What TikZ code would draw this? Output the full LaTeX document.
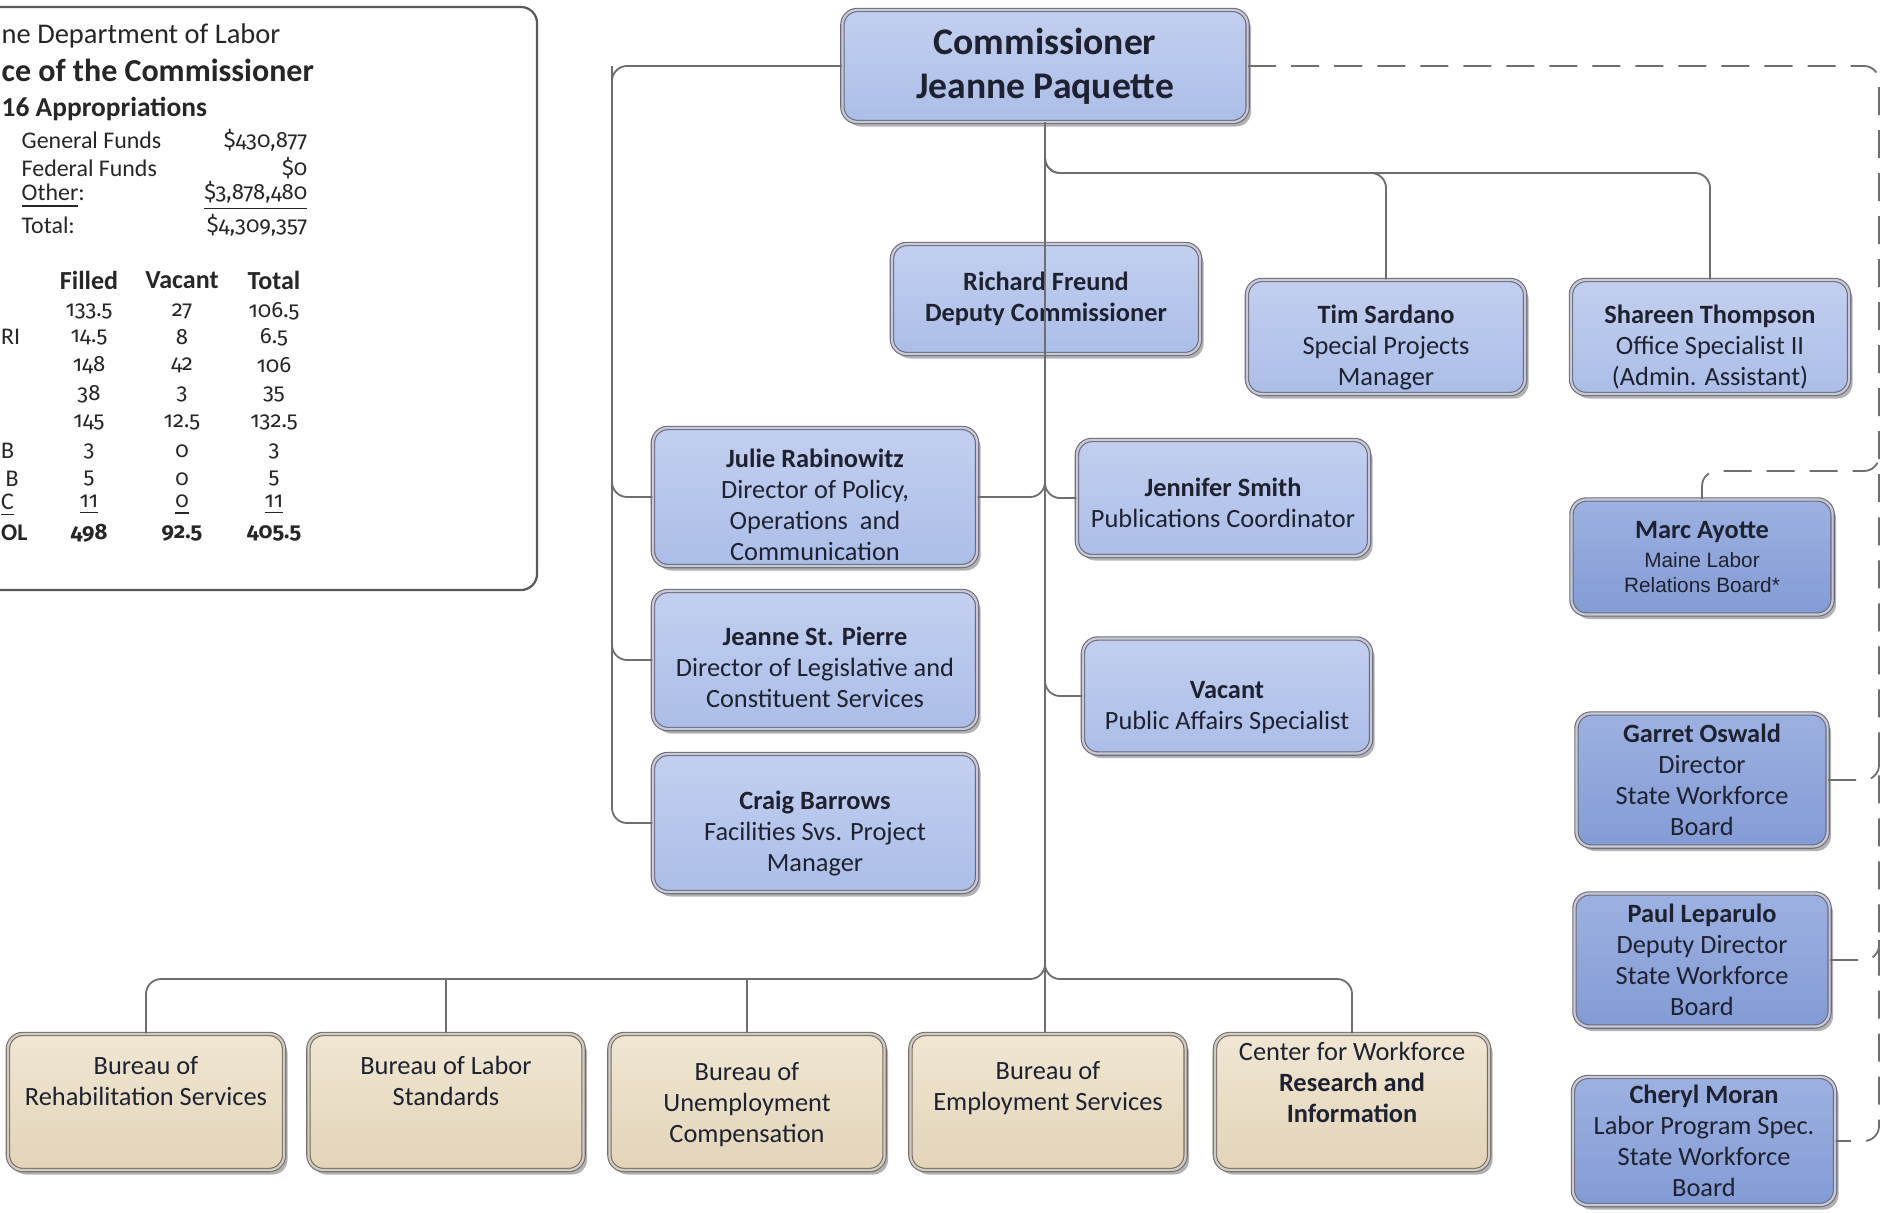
\documentclass[tikz,border=0pt]{standalone}
\usepackage[svgnames]{xcolor}
\usepackage{fontspec}
\setmainfont{Carlito}
\newfontfamily\infofont{Carlito}
\newfontfamily\numfont[Numbers=OldStyle]{Fira Sans}
\newfontfamily\arialfont{Liberation Sans}
\usetikzlibrary{shadows}

\definecolor{linkgray}{HTML}{6E6E6E}
\definecolor{rimgray}{HTML}{6A6A78}
\definecolor{rimlight}{HTML}{C8CAD8}
\definecolor{bluetop}{HTML}{C3CFEF}
\definecolor{bluebot}{HTML}{ABBDE8}
\definecolor{deeptop}{HTML}{9DB1E1}
\definecolor{deepbot}{HTML}{839BD5}
\definecolor{tantop}{HTML}{F0E6D2}
\definecolor{tanbot}{HTML}{E3D4B9}
\definecolor{tanrim}{HTML}{766C62}
\definecolor{inktext}{HTML}{1E2230}

% lower (or raise) a block of centred lines inside a box
\newcommand{\shiftlines}[2]{\raisebox{#1}[\height][\depth]{\begin{tabular}{@{}c@{}}#2\end{tabular}}}

\tikzset{
  orgbox/.style={rectangle, rounded corners=0.15cm, inner sep=0pt, align=center,
    draw=rimgray, double=rimlight, line width=0.011cm, double distance=0.022cm,
    top color=bluetop, bottom color=bluebot, text=inktext,
    drop shadow={shadow xshift=0.035cm, shadow yshift=-0.045cm, opacity=0.3, fill=black},
    font=\fontsize{7.5}{8.8}\selectfont},
  boardbox/.style={orgbox, top color=deeptop, bottom color=deepbot},
  bureaubox/.style={orgbox, draw=tanrim, double=tanrim!35, top color=tantop, bottom color=tanbot},
  link/.style={draw=linkgray, line width=0.018cm, rounded corners=0.15cm},
  dlink/.style={link, dash pattern=on 0.28cm off 0.15cm},
  infotext/.style={inner sep=0pt, text=black!85, font=\infofont\fontsize{6.8}{8}\selectfont},
  numtext/.style={infotext, font=\numfont\fontsize{6.3}{8}\selectfont},
}

\begin{document}
\begin{tikzpicture}[x=0.01cm, y=-0.01cm]
\useasboundingbox (0,0) rectangle (1895,1212);
\fill[white] (0,0) rectangle (1895,1212);
\clip (0,0) rectangle (1895,1212);

% summary panel
\draw[draw=black!65, line width=0.022cm, rounded corners=0.16cm] (-40,7) rectangle (537,590);
\node[infotext, anchor=west, font=\infofont\fontsize{8.1}{10}\selectfont] (dept) at (1,36) {ne Department of Labor};
\node[infotext, anchor=west, font=\infofont\bfseries\fontsize{9.1}{11}\selectfont] (office) at (1,70) {ce of the Commissioner};
\node[infotext, anchor=west, font=\infofont\bfseries\fontsize{7.8}{10}\selectfont] (approp) at (1,109) {16 Appropriations};
\foreach \lab/\amt/\yy [count=\k] in {General Funds/{\$430,877}/140, Federal Funds/\$0/168,
    \underline{Other}:/{\underline{\$3,878,480}}/196, Total:/{\$4,309,357}/225}
{
  \node[infotext, anchor=west] (fund\k) at (21,\yy) {\lab};
  \node[numtext, anchor=east] (amt\k) at (308,\yy) {\amt};
}
\node[infotext, font=\infofont\bfseries\fontsize{7.4}{9}\selectfont] (hfilled) at (89,280) {Filled};
\node[infotext, font=\infofont\bfseries\fontsize{7.4}{9}\selectfont] (hopen) at (182,280) {Vacant};
\node[infotext, font=\infofont\bfseries\fontsize{7.4}{9}\selectfont] (hsum) at (274,280) {Total};
\foreach \yy/\nf/\nv/\nt [count=\r] in {311/133.5/27/106.5, 337/14.5/8/6.5, 365/148/42/106,
    394/38/3/35, 422/145/12.5/132.5, 451/3/0/3, 479/5/0/5,
    505/\underline{11}/\underline{0}/\underline{11}, 533/\textbf{498}/\textbf{92.5}/\textbf{405.5}}
{
  \node[numtext] (filled\r) at (89,\yy) {\nf};
  \node[numtext] (open\r) at (182,\yy) {\nv};
  \node[numtext] (sum\r) at (274,\yy) {\nt};
}
\node[infotext, anchor=west] (lab2) at (0.5,337) {RI};
\node[infotext, anchor=west] (lab6) at (0.5,451) {B};
\node[infotext, anchor=west] (lab7) at (5,479) {B};
\node[infotext, anchor=west] (lab8) at (0.5,505) {\underline{C}};
\node[infotext, anchor=west] (lab9) at (0.5,533) {\textbf{OL}};

% commissioner and staff
\node[orgbox, minimum width=4.05cm, minimum height=1.12cm, font=\bfseries\fontsize{10.7}{12.4}\selectfont] (comm) at (1045,66) {Commissioner\\Jeanne Paquette};
\node[orgbox, minimum width=3.08cm, minimum height=1.10cm, font=\bfseries\fontsize{7.5}{8.8}\selectfont] (freund) at (1046,299) {Richard Freund\\Deputy Commissioner};
\node[orgbox, minimum width=2.78cm, minimum height=1.14cm] (sardano) at (1386,337) {\shiftlines{-0.11cm}{\textbf{Tim Sardano}\\Special Projects\\Manager}};
\node[orgbox, minimum width=2.78cm, minimum height=1.14cm] (thompson) at (1710,337) {\shiftlines{-0.11cm}{\textbf{Shareen Thompson}\\Office Specialist II\\(Admin. Assistant)}};
\node[orgbox, minimum width=3.24cm, minimum height=1.38cm] (rabinowitz) at (815,497) {\shiftlines{-0.11cm}{\textbf{Julie Rabinowitz}\\Director of Policy,\\Operations\ \ and\\Communication}};
\node[orgbox, minimum width=3.24cm, minimum height=1.38cm] (stpierre) at (815,660) {\shiftlines{-0.10cm}{\textbf{Jeanne St. Pierre}\\Director of Legislative and\\Constituent Services}};
\node[orgbox, minimum width=3.24cm, minimum height=1.38cm] (barrows) at (815,823) {\shiftlines{-0.11cm}{\textbf{Craig Barrows}\\Facilities Svs. Project\\Manager}};
\node[orgbox, minimum width=2.92cm, minimum height=1.16cm] (smith) at (1223,498) {\shiftlines{-0.08cm}{\textbf{Jennifer Smith}\\Publications Coordinator}};
\node[orgbox, minimum width=2.88cm, minimum height=1.15cm] (pubaffairs) at (1227,696) {\shiftlines{-0.12cm}{\textbf{Vacant}\\Public Affairs Specialist}};

% boards
\node[boardbox, minimum width=2.61cm, minimum height=1.15cm] (ayotte) at (1702,557) {\textbf{Marc Ayotte}\\[-0.5pt]{\arialfont\fontsize{5.9}{7}\selectfont Maine Labor}\\[-1.8pt]{\arialfont\fontsize{5.9}{7}\selectfont Relations Board*}};
\node[boardbox, minimum width=2.51cm, minimum height=1.33cm] (oswald) at (1702,780) {\textbf{Garret Oswald}\\Director\\State Workforce\\Board};
\node[boardbox, minimum width=2.55cm, minimum height=1.33cm] (leparulo) at (1702,960) {\textbf{Paul Leparulo}\\Deputy Director\\State Workforce\\Board};
\node[boardbox, minimum width=2.62cm, minimum height=1.28cm] (moran) at (1704,1141) {\textbf{Cheryl Moran}\\Labor Program Spec.\\State Workforce\\Board};

% bureaus
\node[bureaubox, minimum width=2.76cm, minimum height=1.36cm] (brs) at (146,1102) {\shiftlines{0.18cm}{Bureau of\\Rehabilitation Services}};
\node[bureaubox, minimum width=2.75cm, minimum height=1.36cm] (bls) at (446,1102) {\shiftlines{0.18cm}{Bureau of Labor\\Standards}};
\node[bureaubox, minimum width=2.75cm, minimum height=1.36cm] (buc) at (747,1102) {\shiftlines{-0.03cm}{Bureau of\\Unemployment\\Compensation}};
\node[bureaubox, minimum width=2.75cm, minimum height=1.36cm] (bes) at (1048,1102) {\shiftlines{0.13cm}{Bureau of\\Employment Services}};
\node[bureaubox, minimum width=2.74cm, minimum height=1.36cm] (cwri) at (1352,1102) {\shiftlines{0.17cm}{Center for Workforce\\\textbf{Research and}\\\textbf{Information}}};

% connectors
\coordinate (lbus) at (612,66);
\coordinate (rbus) at (1879,66);
\coordinate (tbus) at (1045,173);
\coordinate (bbus) at (1045,979);

\draw[link] (comm.west) -- (lbus) |- (barrows.west);
\draw[link] (rabinowitz.west) -| (lbus);
\draw[link] (stpierre.west) -| (lbus);

\draw[link] (sardano.north) |- (tbus) -- (comm.south);
\draw[link] (thompson.north) |- (tbus) -- (comm.south);

\draw[link] (rabinowitz.east) -| (comm.south);
\draw[link] (smith.west) -| (comm.south);
\draw[link] (pubaffairs.west) -| (comm.south);

\draw[link] (brs.north) |- (bbus) -- (comm.south);
\draw[link] (cwri.north) |- (bbus) -- (comm.south);
\draw[link] (bls.north) -- (bls.north |- bbus);
\draw[link] (buc.north) -- (buc.north |- bbus);
\draw[link] (comm.south) -- (comm.south |- bes.north);

\draw[dlink] (comm.east) -- (rbus) |- (moran.east);
\draw[dlink] (ayotte.north) |- (rbus |- 0,471) -- ++(0,-20);
\draw[dlink] (oswald.east) -- (oswald.east -| rbus) -- ++(0,-20);
\draw[dlink] (leparulo.east) -- (leparulo.east -| rbus) -- ++(0,-20);
\end{tikzpicture}
\end{document}
